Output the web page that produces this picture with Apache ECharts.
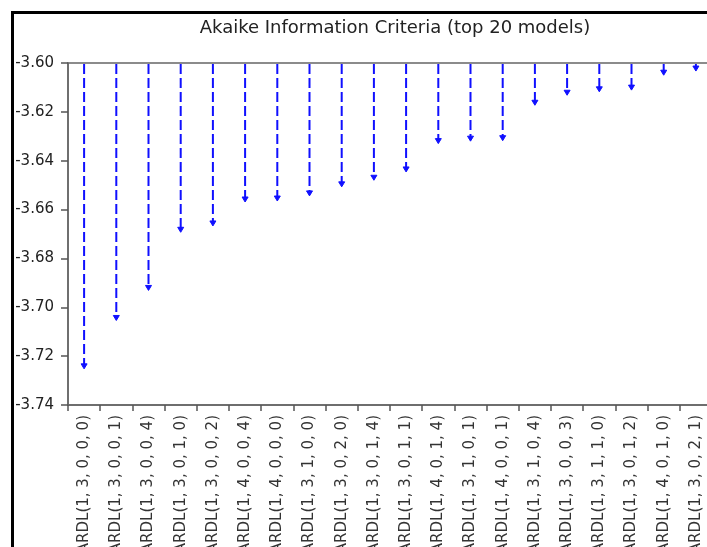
<!DOCTYPE html>
<html>
<head>
<meta charset="utf-8">
<script src="https://cdn.jsdelivr.net/npm/echarts@6/dist/echarts.min.js"></script>
<style>
html,body{margin:0;padding:0;background:#fff;}
#chart{width:707px;height:547px;}
</style>
</head>
<body>
<div id="chart"></div>
<script>
var categories = [
  "ARDL(1, 3, 0, 0, 0)", "ARDL(1, 3, 0, 0, 1)", "ARDL(1, 3, 0, 0, 4)", "ARDL(1, 3, 0, 1, 0)",
  "ARDL(1, 3, 0, 0, 2)", "ARDL(1, 4, 0, 0, 4)", "ARDL(1, 4, 0, 0, 0)", "ARDL(1, 3, 1, 0, 0)",
  "ARDL(1, 3, 0, 2, 0)", "ARDL(1, 3, 0, 1, 4)", "ARDL(1, 3, 0, 1, 1)", "ARDL(1, 4, 0, 1, 4)",
  "ARDL(1, 3, 1, 0, 1)", "ARDL(1, 4, 0, 0, 1)", "ARDL(1, 3, 1, 0, 4)", "ARDL(1, 3, 0, 0, 3)",
  "ARDL(1, 3, 1, 1, 0)", "ARDL(1, 3, 0, 1, 2)", "ARDL(1, 4, 0, 1, 0)", "ARDL(1, 3, 0, 2, 1)"
];
var aicValues = [
  -3.7252, -3.7054, -3.6931, -3.6693, -3.6667, -3.6569, -3.6565, -3.6544, -3.6507, -3.6480,
  -3.6446, -3.6330, -3.6320, -3.6318, -3.6173, -3.6132, -3.6118, -3.6111, -3.6050, -3.6033
];
var yMin = -3.74, yMax = -3.60, yInterval = 0.02;

var chart = echarts.init(document.getElementById('chart'), null, {renderer: 'canvas'});
var seriesData = aicValues.map(function (v, i) { return [i, v]; });
var font = "'DejaVu Sans', 'Liberation Sans', Arial, sans-serif";
var blue = '#1010ff';

chart.setOption({
  backgroundColor: '#fff',
  animation: false,
  title: {
    text: 'Akaike Information Criteria (top 20 models)',
    left: 390, top: 14, textAlign: 'center',
    textStyle: {fontFamily: font, fontSize: 18, fontWeight: 'normal', color: '#222'}
  },
  graphic: [
    {type: 'rect', shape: {x: 12.5, y: 12.5, width: 800, height: 700},
     style: {fill: null, stroke: '#000', lineWidth: 3}, z: 100}
  ],
  grid: {left: 68, top: 63, right: -5, bottom: 142, containLabel: false, outerBoundsMode: 'none',
    show: true, borderColor: '#666', borderWidth: 1.5, backgroundColor: 'transparent'},
  xAxis: {
    type: 'category',
    data: categories,
    boundaryGap: true,
    axisLine: {lineStyle: {color: '#666', width: 1.5}},
    axisTick: {show: true, length: 6, lineStyle: {color: '#555', width: 1.5}},
    axisLabel: {interval: 0, rotate: 90, margin: 10, fontFamily: font, fontSize: 15, color: '#333'},
    splitLine: {show: false}
  },
  yAxis: {
    type: 'value',
    min: yMin, max: yMax, interval: yInterval,
    axisLine: {show: true, lineStyle: {color: '#666', width: 1.5}},
    axisTick: {show: true, length: 7, lineStyle: {color: '#555', width: 1.5}},
    axisLabel: {margin: 14, fontFamily: font, fontSize: 15, color: '#222',
      formatter: function (v) { return v.toFixed(2); }},
    splitLine: {show: false}
  },
  series: [{
    type: 'custom',
    data: seriesData,
    encode: {x: 0, y: 1},
    clip: false,
    renderItem: function (params, api) {
      var idx = api.value(0), v = api.value(1);
      var top = api.coord([idx, yMax]);
      var end = api.coord([idx, v]);
      var ah = 5, aw = 3;
      return {
        type: 'group',
        children: [
          {type: 'line', shape: {x1: top[0], y1: top[1] + 1, x2: end[0], y2: end[1] - ah + 1},
           style: {stroke: blue, lineWidth: 2, lineDash: [10, 4]}},
          {type: 'polygon', shape: {points: [[end[0] - aw, end[1] - ah], [end[0] + aw, end[1] - ah], [end[0], end[1]]]},
           style: {fill: blue, stroke: blue, lineWidth: 1}}
        ]
      };
    }
  }]
});
</script>
</body>
</html>
